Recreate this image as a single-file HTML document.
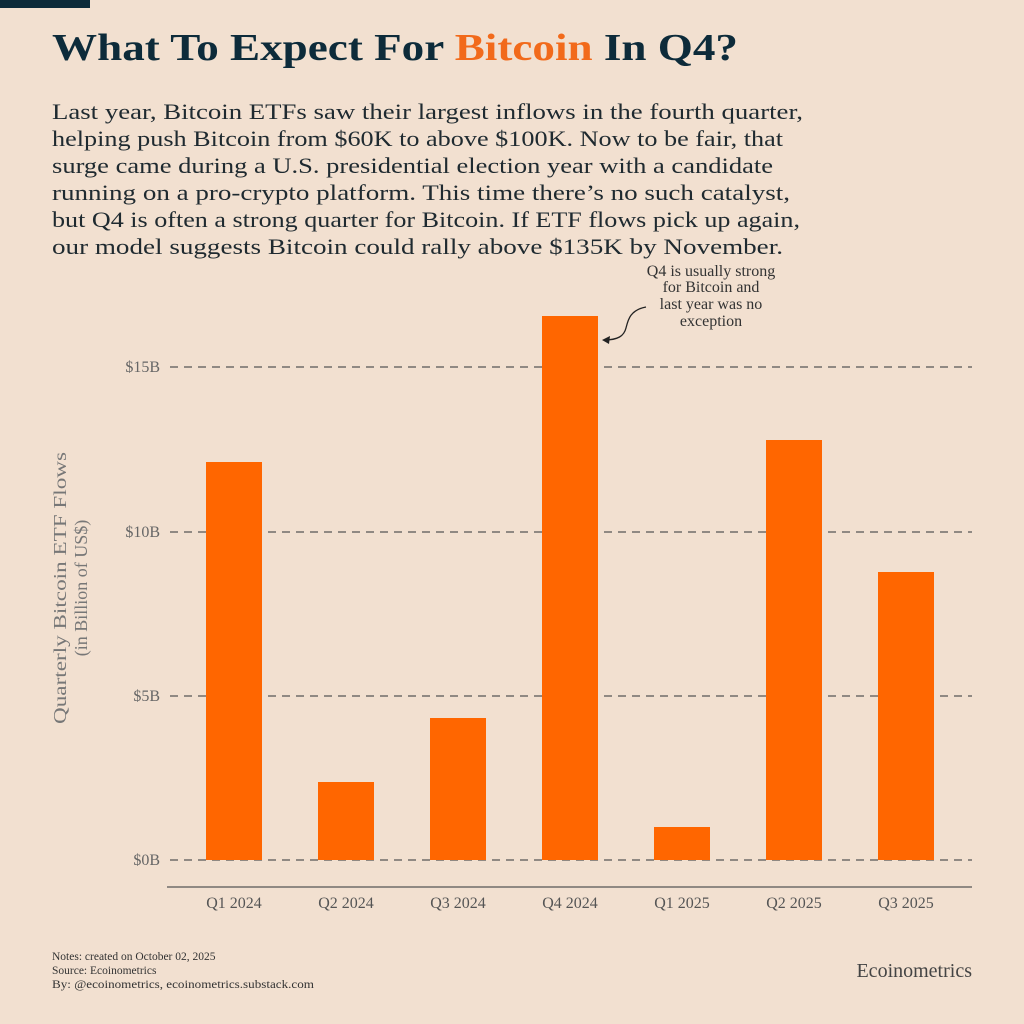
<!DOCTYPE html>
<html><head><meta charset="utf-8"><style>
body{margin:0;background:#f2e0d0;}
svg{display:block}
</style></head><body>
<svg width="1024" height="1024" xmlns="http://www.w3.org/2000/svg" font-family="Liberation Serif, serif">
<rect width="1024" height="1024" fill="#f2e0d0"/>
<rect x="0" y="0" width="90" height="8" fill="#0d2b3a"/>
<text x="52" y="60" font-size="38" font-weight="bold" fill="#0d2b3a" textLength="686" lengthAdjust="spacingAndGlyphs">What To Expect For <tspan fill="#f26a1b">Bitcoin</tspan> In Q4?</text>
<g font-size="22" fill="#1f2a30">
<text x="52" y="119" textLength="751" lengthAdjust="spacingAndGlyphs">Last year, Bitcoin ETFs saw their largest inflows in the fourth quarter,</text>
<text x="52" y="146" textLength="731" lengthAdjust="spacingAndGlyphs">helping push Bitcoin from $60K to above $100K. Now to be fair, that</text>
<text x="52" y="173" textLength="721" lengthAdjust="spacingAndGlyphs">surge came during a U.S. presidential election year with a candidate</text>
<text x="52" y="200" textLength="738" lengthAdjust="spacingAndGlyphs">running on a pro-crypto platform. This time there’s no such catalyst,</text>
<text x="52" y="227" textLength="748" lengthAdjust="spacingAndGlyphs">but Q4 is often a strong quarter for Bitcoin. If ETF flows pick up again,</text>
<text x="52" y="254" textLength="731" lengthAdjust="spacingAndGlyphs">our model suggests Bitcoin could rally above $135K by November.</text>
</g>
<g stroke="#555" stroke-width="1.2" stroke-dasharray="8,6">
<line x1="170" y1="367" x2="972" y2="367"/>
<line x1="170" y1="532" x2="972" y2="532"/>
<line x1="170" y1="696" x2="972" y2="696"/>
<line x1="170" y1="860" x2="972" y2="860"/>
</g>
<g font-size="16" fill="#666" text-anchor="end">
<text x="160" y="372">$15B</text>
<text x="160" y="537">$10B</text>
<text x="160" y="701">$5B</text>
<text x="160" y="865">$0B</text>
</g>
<g fill="#ff6600">
<rect x="206" y="462" width="56" height="398"/>
<rect x="318" y="782" width="56" height="78"/>
<rect x="430" y="718" width="56" height="142"/>
<rect x="542" y="316" width="56" height="544"/>
<rect x="654" y="827" width="56" height="33"/>
<rect x="766" y="440" width="56" height="420"/>
<rect x="878" y="572" width="56" height="288"/>
</g>
<line x1="167" y1="887" x2="972" y2="887" stroke="#555" stroke-width="1.2"/>
<g font-size="16" fill="#555" text-anchor="middle">
<text x="234" y="908">Q1 2024</text>
<text x="346" y="908">Q2 2024</text>
<text x="458" y="908">Q3 2024</text>
<text x="570" y="908">Q4 2024</text>
<text x="682" y="908">Q1 2025</text>
<text x="794" y="908">Q2 2025</text>
<text x="906" y="908">Q3 2025</text>
</g>
<g font-size="18" fill="#777" text-anchor="middle" transform="translate(66,588) rotate(-90)">
<text x="0" y="0" textLength="272" lengthAdjust="spacingAndGlyphs">Quarterly Bitcoin ETF Flows</text>
<text x="0" y="21">(in Billion of US$)</text>
</g>
<g font-size="16" fill="#333" text-anchor="middle">
<text x="711" y="276">Q4 is usually strong</text>
<text x="711" y="292">for Bitcoin and</text>
<text x="711" y="309">last year was no</text>
<text x="711" y="326">exception</text>
</g>
<path d="M646 307 C630 310,628 320,626 328 C624 336,618 340,604 340" fill="none" stroke="#222" stroke-width="1.3"/>
<path d="M602 340 L610 336 L609 344 Z" fill="#222"/>
<g font-size="11.5" fill="#333">
<text x="52" y="960">Notes: created on October 02, 2025</text>
<text x="52" y="974">Source: Ecoinometrics</text>
<text x="52" y="988" textLength="262" lengthAdjust="spacingAndGlyphs">By: @ecoinometrics, ecoinometrics.substack.com</text>
</g>
<text x="972" y="977" font-size="20" fill="#444" text-anchor="end">Ecoinometrics</text>
</svg>
</body></html>
